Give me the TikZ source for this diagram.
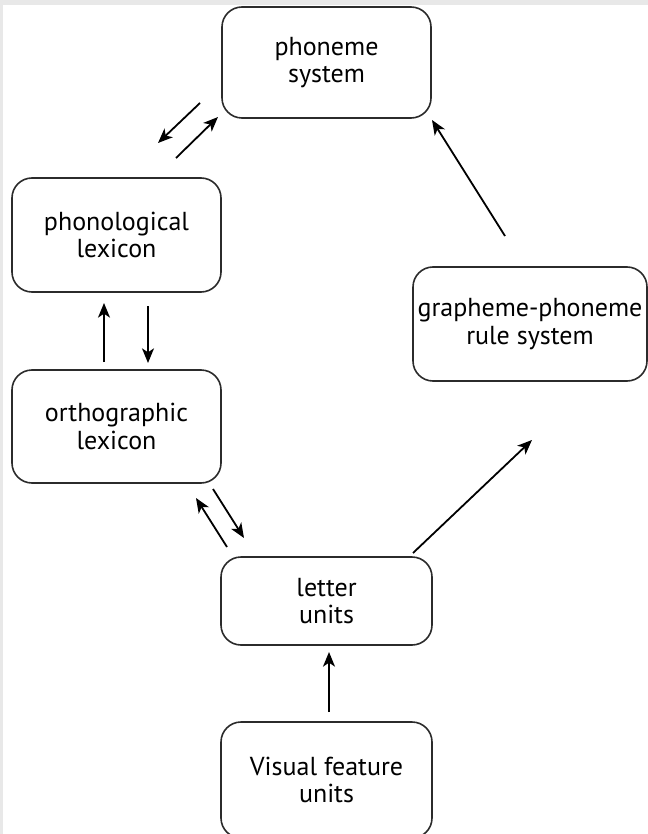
\documentclass[tikz,border=0pt]{standalone}
\usepackage{fontspec}
\setmainfont{PT Sans}
\usetikzlibrary{arrows.meta}
\definecolor{edgegray}{HTML}{E8E8E8}
\definecolor{boxline}{HTML}{2B2B2B}
\tikzset{
  module/.style={draw=boxline, line width=1.2pt, rounded corners=15pt,
    align=center, inner sep=0pt,
    font=\fontsize{19.5}{20.5}\selectfont},
  link/.style={line width=1.35pt, -{Stealth[length=11pt,width=9pt,inset=3pt]}}
}
\begin{document}
\begin{tikzpicture}[x=0.75pt,y=-0.75pt]
  \useasboundingbox (0,0) rectangle (648,834);
  \clip (0,0) rectangle (648,834);
  \fill[white] (0,0) rectangle (648,834);
  % thin grey margins along the top and left edges
  \fill[edgegray] (0,0) rectangle (648,5);
  \fill[edgegray] (0,0) rectangle (3,834);

  % modules
  \node[module, minimum width=156.75pt, minimum height=83.25pt] (ps) at (326.5,62.5) {phoneme\\system};
  \node[module, minimum width=156.75pt, minimum height=85.5pt] (pl) at (116.5,235) {phonological\\lexicon};
  \node[module, minimum width=156.75pt, minimum height=84.75pt] (ol) at (116.5,426.5) {orthographic\\lexicon};
  \node[module, minimum width=158.25pt, minimum height=66pt] (lu) at (326.5,601) {letter\\units};
  \node[module, minimum width=158.25pt, minimum height=87pt] (vf) at (326.5,780) {Visual feature\\units};
  \node[module, minimum width=175.5pt, minimum height=85.5pt] (gp) at (530,324) {grapheme-phoneme\\rule system};

  % arrow end points
  \coordinate (psA) at (200,103);  \coordinate (plA) at (158,143);
  \coordinate (plB) at (176,158);  \coordinate (psB) at (218,117);
  \coordinate (olA) at (104,362);  \coordinate (plC) at (104,303);
  \coordinate (plD) at (148,306);  \coordinate (olB) at (148,363);
  \coordinate (luA) at (227,547);  \coordinate (olC) at (196,498);
  \coordinate (olD) at (213,489);  \coordinate (luB) at (244,538);
  \coordinate (vfA) at (329,712);  \coordinate (luC) at (329,652);
  \coordinate (luD) at (413,553);  \coordinate (gpA) at (532,440);
  \coordinate (gpB) at (505,236);  \coordinate (psC) at (432,120);

  % connections
  \draw[link] (psA) -- (plA);
  \draw[link] (plB) -- (psB);
  \draw[link] (olA) -- (plC);
  \draw[link] (plD) -- (olB);
  \draw[link] (luA) -- (olC);
  \draw[link] (olD) -- (luB);
  \draw[link] (vfA) -- (luC);
  \draw[link] (luD) -- (gpA);
  \draw[link] (gpB) -- (psC);
\end{tikzpicture}
\end{document}
